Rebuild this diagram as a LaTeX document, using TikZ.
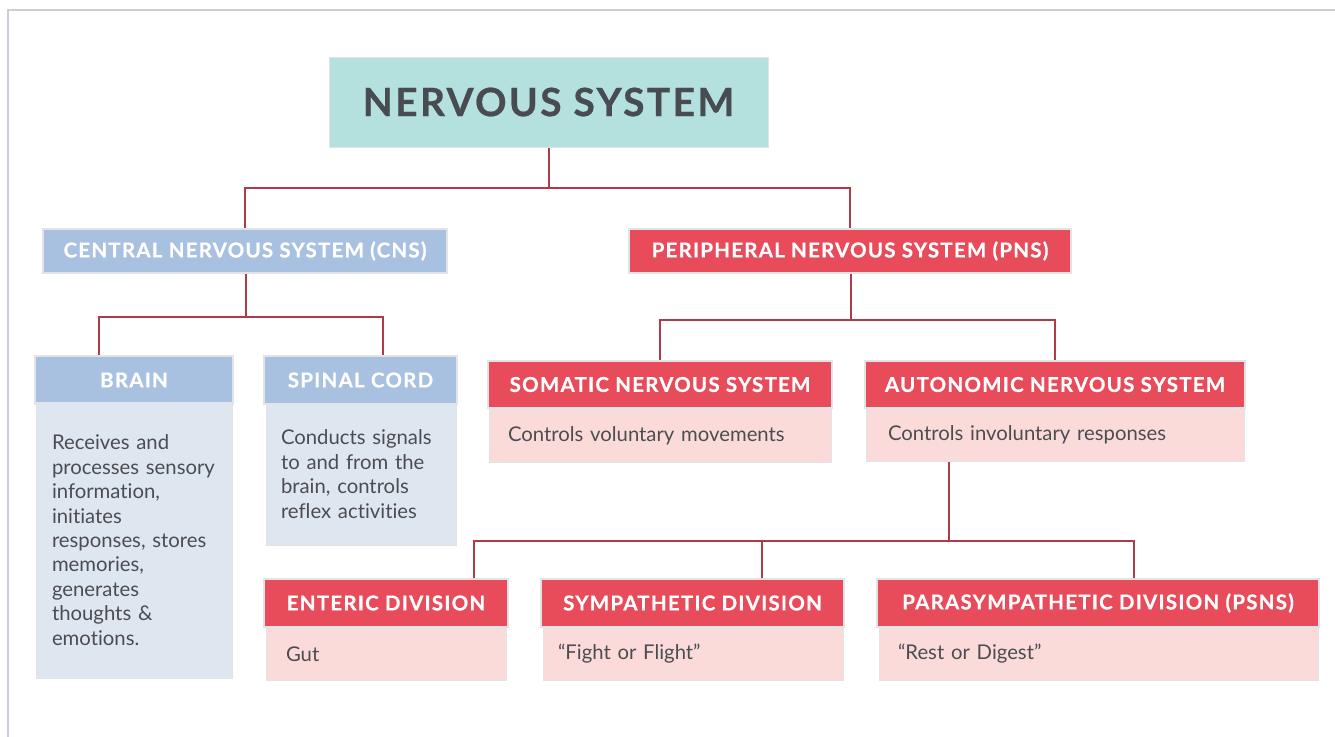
\documentclass[tikz,border=0pt]{standalone}
\usepackage{fontspec}
\setmainfont{Lato}[Ligatures={NoCommon,NoRare}]
\newfontfamily\capsfont[LetterSpace=6, BoldFeatures={FakeBold=0.6}]{Lato}
\usetikzlibrary{positioning}

\definecolor{framegray}{HTML}{C9CED6}
\definecolor{titlefill}{HTML}{B4E0DD}
\definecolor{titletext}{HTML}{484C51}
\definecolor{cnsblue}{HTML}{A8C1E0}
\definecolor{bodyblue}{HTML}{DEE6F0}
\definecolor{pnsred}{HTML}{E84B59}
\definecolor{bodypink}{HTML}{FADBDA}
\definecolor{linkred}{HTML}{B03A49}
\definecolor{bodytext}{HTML}{4C4D51}
\definecolor{edgegray}{HTML}{E2E3E6}

\tikzset{
  link/.style={draw=linkred, line width=2},
  titlebox/.style={fill=titlefill, draw=edgegray, line width=1, text=titletext,
    font=\capsfont\bfseries\fontsize{39}{39}\selectfont, inner sep=0},
  hdr/.style={draw=edgegray, line width=2, text=white, inner sep=0,
    font=\capsfont\bfseries\fontsize{20.5}{20.5}\selectfont},
  hdrblue/.style={hdr, fill=cnsblue},
  hdrred/.style={hdr, fill=pnsred},
  body/.style={draw=edgegray, line width=1, text=bodytext, inner sep=0, align=left,
    font=\fontsize{20.3}{24.4}\selectfont},
  bodyblue/.style={body, fill=bodyblue},
  bodyred/.style={body, fill=bodypink},
}

\begin{document}
\begin{tikzpicture}[x=1pt, y=-1pt]
\useasboundingbox (0,0) rectangle (1335,736);
\fill[white] (0,0) rectangle (1335,736);
% page frame
\draw[framegray, line width=1.5] (8,745) -- (8,10) -- (1345,10);

% top level
\node[titlebox, minimum width=439, minimum height=90] (ns) at (548.5,102) {NERVOUS SYSTEM};

% second level
\node[hdrblue, minimum width=404, minimum height=44] (cns) at (245,251) {CENTRAL NERVOUS SYSTEM (CNS)};
\node[hdrred, minimum width=442, minimum height=44] (pns) at (850,251) {PERIPHERAL NERVOUS SYSTEM (PNS)};

% central branch
\node[hdrblue, minimum width=198, minimum height=48] (brain) at (134,380) {BRAIN};
\node[bodyblue, minimum width=196, minimum height=276, text width=164] (brainb) at (134,540)
  {Receives and\\processes sensory\\information,\\initiates\\responses, stores\\memories,\\generates\\thoughts \&\\emotions.};
\node[hdrblue, minimum width=193, minimum height=48] (spinal) at (360.5,380) {SPINAL CORD};
\node[bodyblue, minimum width=190, minimum height=142, text width=160] (spinalb) at (361,474)
  {Conducts signals\\to and from the\\brain, controls\\reflex activities};

% peripheral branch
\node[hdrred, minimum width=344, minimum height=47] (som) at (660,384.5) {SOMATIC NERVOUS SYSTEM};
\node[bodyred, minimum width=342, minimum height=53, text width=304] (somb) at (660,435.5) {Controls voluntary movements};
\node[hdrred, minimum width=380, minimum height=47] (aut) at (1055,384.5) {AUTONOMIC NERVOUS SYSTEM};
\node[bodyred, minimum width=378, minimum height=52, text width=334] (autb) at (1055,435) {Controls involuntary responses};

% autonomic divisions
\node[hdrred, minimum width=244, minimum height=48] (ent) at (386,603) {ENTERIC DIVISION};
\node[bodyred, minimum width=240, minimum height=52, text width=200] (entb) at (386,654) {Gut};
\node[hdrred, minimum width=303, minimum height=48] (sym) at (692.5,603) {SYMPATHETIC DIVISION};
\node[bodyred, minimum width=300, minimum height=52, text width=270] (symb) at (693,654) {“Fight or Flight”};
\node[hdrred, minimum width=442, minimum height=48] (psy) at (1098,603) {PARASYMPATHETIC DIVISION (PSNS)};
\node[bodyred, minimum width=439, minimum height=52, text width=401] (psyb) at (1098.5,654) {“Rest or Digest”};

% connectors
\draw[link] (ns.south) -- ++(0,40) coordinate (j1);
\draw[link] (cns.north) |- (j1) -| (pns.north);

\draw[link] ([xshift=1]cns.south) -- ++(0,43) coordinate (j2);
\draw[link] ([xshift=-35]brain.north) |- (j2) -| ([xshift=22.5]spinal.north);

\draw[link] ([xshift=1]pns.south) -- ++(0,46) coordinate (j3);
\draw[link] (som.north) |- (j3) -| (aut.north);

\draw[link] ([xshift=-106]autb.south) -- ++(0,79) coordinate (j4);
\draw[link] ([xshift=88]ent.north) |- (j4) -| ([xshift=36]psy.north);
\draw[link] ([xshift=69.5]sym.north) -- ([xshift=69.5]sym.north |- j4);
\end{tikzpicture}
\end{document}
